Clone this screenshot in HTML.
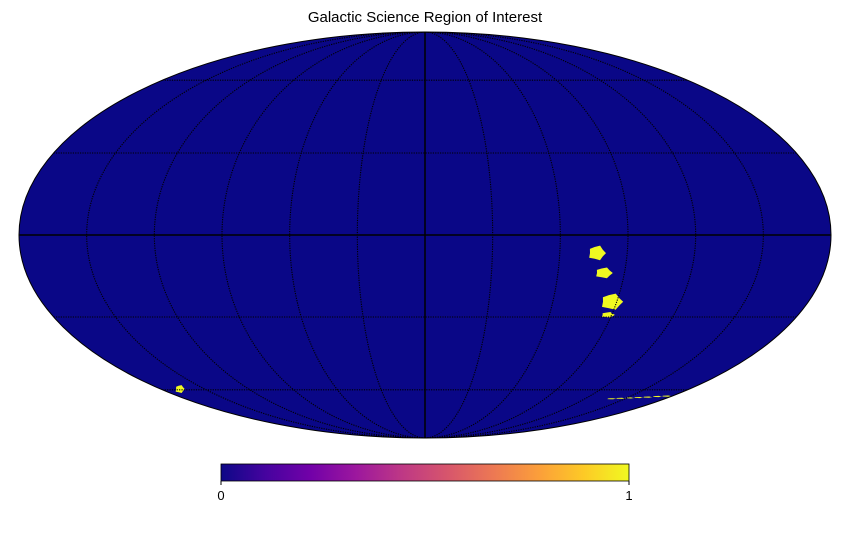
<!DOCTYPE html>
<html><head><meta charset="utf-8"><style>
body{margin:0;background:#fff;}
svg{display:block;font-family:"Liberation Sans",sans-serif;}
</style></head><body>
<svg id="chart" width="850" height="540" viewBox="0 0 850 540">
<defs>
<linearGradient id="plasma" x1="0" x2="1" y1="0" y2="0">
<stop offset="0" stop-color="#0d0887"/><stop offset="0.11" stop-color="#46039f"/><stop offset="0.22" stop-color="#7201a8"/><stop offset="0.33" stop-color="#9c179e"/><stop offset="0.44" stop-color="#bd3786"/><stop offset="0.56" stop-color="#d8576b"/><stop offset="0.67" stop-color="#ed7953"/><stop offset="0.78" stop-color="#fb9f3a"/><stop offset="0.89" stop-color="#fdca26"/><stop offset="1" stop-color="#f0f921"/>
</linearGradient>
<clipPath id="ellclip"><ellipse cx="425" cy="235" rx="406" ry="203"/></clipPath>
</defs>
<text x="425" y="22" text-anchor="middle" font-size="15" fill="#000">Galactic Science Region of Interest</text>
<ellipse cx="425" cy="235" rx="406" ry="203" fill="#0a0787"/>
<g id="blobs" clip-path="url(#ellclip)"></g>
<g id="grat" clip-path="url(#ellclip)"></g>
<ellipse cx="425" cy="235" rx="406" ry="203" fill="none" stroke="#000" stroke-width="1"/>
<rect x="221" y="464" width="408" height="17" fill="url(#plasma)" stroke="#000" stroke-width="0.8"/>
<line x1="221" y1="481" x2="221" y2="485" stroke="#000"/>
<line x1="629" y1="481" x2="629" y2="485" stroke="#000"/>
<text id="cb0" x="221" y="500" text-anchor="middle" font-size="13">0</text>
<text id="cb1" x="629" y="500" text-anchor="middle" font-size="13">1</text>
</svg>
<script>
// region blobs in galactic lon/lat (deg), size in deg
const blobLon = [-76.6, -80.8, -87.8, -88.3, 166.9, -140, -146, -152, -158, -164, -170, -176];
const blobLat = [-6.5, -13.7, -24.3, -29.2, -59.7, -64.3, -64.1, -63.9, -63.7, -63.5, -63.2, -63];
const blobSize = [1.8, 1.8, 2.4, 1.5, 1.5, 1.6, 1.6, 1.6, 1.6, 1.6, 1.6, 1.6];
const blobFlat = [0.8, 0.6, 0.7, 0.4, 0.8, 0.12, 0.12, 0.12, 0.12, 0.12, 0.12, 0.12];
const colorbarTicks = ["0", "1"];

const CX=425, CY=235, RX=406, RY=203;
function proj(lon, lat){
  const phi = lat*Math.PI/180, lam = lon*Math.PI/180;
  let th = phi;
  for(let i=0;i<50;i++){
    const f = 2*th+Math.sin(2*th)-Math.PI*Math.sin(phi);
    const d = 2+2*Math.cos(2*th);
    if (Math.abs(d)<1e-9) break;
    th -= f/d;
  }
  return [CX - RX*(lam/Math.PI)*Math.cos(th), CY - RY*Math.sin(th)];
}
const NS='http://www.w3.org/2000/svg';
const grat=document.getElementById('grat');
function addPath(d, solid, name){
  const p=document.createElementNS(NS,'path');
  p.setAttribute('d',d);p.setAttribute('fill','none');p.setAttribute('stroke','#000');
  p.setAttribute('stroke-width', solid?1.5:1.1);
  if(!solid)p.setAttribute('stroke-dasharray','1.2,1.2');
  
  
  grat.appendChild(p);
}
for(let lon=-150;lon<=150;lon+=30){
  let d='';
  for(let lat=-90;lat<=90;lat+=1){const [x,y]=proj(lon,lat);d+=(lat===-90?'M':'L')+x.toFixed(2)+','+y.toFixed(2);}
  addPath(d, lon===0, 'meridian-line');
}
for(let lat=-60;lat<=60;lat+=30){
  const [x1,y]=proj(180,lat),[x2]=proj(-180,lat);
  addPath('M'+x1+','+y+'L'+x2+','+y, lat===0, 'parallel-line');
}
const bg=document.getElementById('blobs');
const wob=[1,0.8,1.05,0.85,1.1,0.8,1.0,0.9,1.1,0.8];
for(let i=0;i<blobLon.length;i++){
  const [cx,cy]=proj(blobLon[i],blobLat[i]);
  const [px]=proj(blobLon[i]-blobSize[i],blobLat[i]);
  const r=Math.abs(px-cx)*2.2;
  let d='';
  for(let k=0;k<wob.length;k++){
    const a=k/wob.length*2*Math.PI;
    const rr=r*wob[k];
    d+=(k?'L':'M')+(cx+rr*Math.cos(a)).toFixed(1)+','+(cy+rr*blobFlat[i]*Math.sin(a)).toFixed(1);
  }
  const p=document.createElementNS(NS,'path');
  p.setAttribute('d',d+'Z');p.setAttribute('fill','#f0f921');
  
  
  bg.appendChild(p);
}
document.getElementById('cb0').textContent=colorbarTicks[0];
document.getElementById('cb1').textContent=colorbarTicks[1];
</script>
</body></html>
